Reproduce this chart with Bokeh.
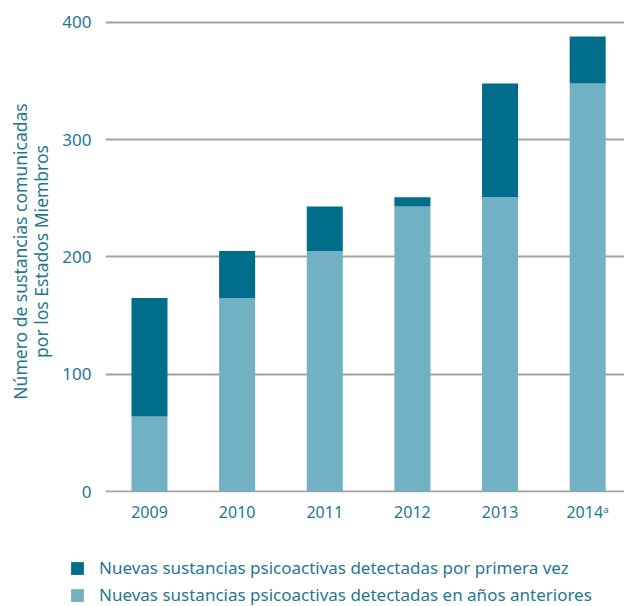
from bokeh.plotting import figure
from bokeh.layouts import column
from bokeh.models import ColumnDataSource, Range1d, FixedTicker, Legend, LegendItem
from bokeh.embed import file_html
from bokeh.resources import INLINE

years = ["2009", "2010", "2011", "2012", "2013", "2014ᵃ"]
previous_years = [64, 165, 205, 243, 251, 348]
first_time = [101, 40, 38, 8, 97, 40]
y_ticks = [0, 100, 200, 300, 400]
legend_labels = ["Nuevas sustancias psicoactivas detectadas por primera vez",
                 "Nuevas sustancias psicoactivas detectadas en años anteriores"]

DARK = "#006e8a"
LIGHT = "#72b0c4"
TEXT = "#1f7891"
GRID = "#a3a3a3"
FONT = "Noto Sans"

x = list(range(len(years)))
source = ColumnDataSource(dict(x=x, prev=previous_years, new=first_time))

p = figure(width=624, height=530, output_backend="svg", toolbar_location=None,
           x_range=Range1d(-0.502, 5.42), y_range=Range1d(-0.85, 410.2),
           min_border_left=105, min_border_right=0, min_border_top=10,
           min_border_bottom=38)
p.frame_align = False
p.outline_line_color = None

rs = p.vbar_stack(["prev", "new"], x="x", width=0.411, source=source,
                  color=[LIGHT, DARK], line_color=None)

p.xaxis.ticker = FixedTicker(ticks=x)
p.xaxis.major_label_overrides = {i: y for i, y in enumerate(years)}
p.xaxis.axis_line_color = None
p.xaxis.major_tick_line_color = None
p.xaxis.minor_tick_line_color = None
p.xaxis.major_label_standoff = 2
p.xaxis.major_label_text_font = FONT
p.xaxis.major_label_text_font_size = "16px"
p.xaxis.major_label_text_color = TEXT

p.yaxis.ticker = FixedTicker(ticks=y_ticks)
p.yaxis.axis_line_color = None
p.yaxis.major_tick_line_color = None
p.yaxis.minor_tick_line_color = None
p.yaxis.major_label_standoff = 8
p.yaxis.major_label_text_font = FONT
p.yaxis.major_label_text_font_size = "17px"
p.yaxis.major_label_text_color = TEXT
p.yaxis.axis_label = "Número de sustancias comunicadas\npor los Estados Miembros"
p.yaxis.axis_label_text_font = FONT
p.yaxis.axis_label_text_font_size = "17.5px"
p.yaxis.axis_label_text_font_style = "normal"
p.yaxis.axis_label_text_color = TEXT
p.yaxis.axis_label_text_line_height = 0.9
p.yaxis.axis_label_standoff = 6

p.xgrid.grid_line_color = None
p.ygrid.ticker = FixedTicker(ticks=y_ticks)
p.ygrid.grid_line_color = GRID
p.ygrid.grid_line_width = 2

# legend panel below the chart
lf = figure(width=624, height=76, output_backend="svg", toolbar_location=None,
            x_axis_type=None, y_axis_type=None,
            min_border_left=0, min_border_right=0, min_border_top=0, min_border_bottom=0)
lf.frame_align = False
lf.outline_line_color = None
lf.xgrid.grid_line_color = None
lf.ygrid.grid_line_color = None
r_dark = lf.vbar(x=[0], top=[0], bottom=[0], width=0.001, color=DARK, line_color=None)
r_light = lf.vbar(x=[0], top=[0], bottom=[0], width=0.001, color=LIGHT, line_color=None)

legend = Legend(items=[
    LegendItem(label=legend_labels[0], renderers=[r_dark]),
    LegendItem(label=legend_labels[1], renderers=[r_light]),
], location=(69, 0))
legend.border_line_color = None
legend.background_fill_alpha = 0
legend.glyph_width = 16
legend.glyph_height = 16
legend.label_standoff = 14
legend.label_text_font = FONT
legend.label_text_font_size = "17px"
legend.label_text_color = TEXT
legend.spacing = 4
legend.padding = 0
legend.margin = 0
lf.add_layout(legend, "center")

layout = column(p, lf, spacing=0)
open("out.html", "w").write(file_html(layout, INLINE))
